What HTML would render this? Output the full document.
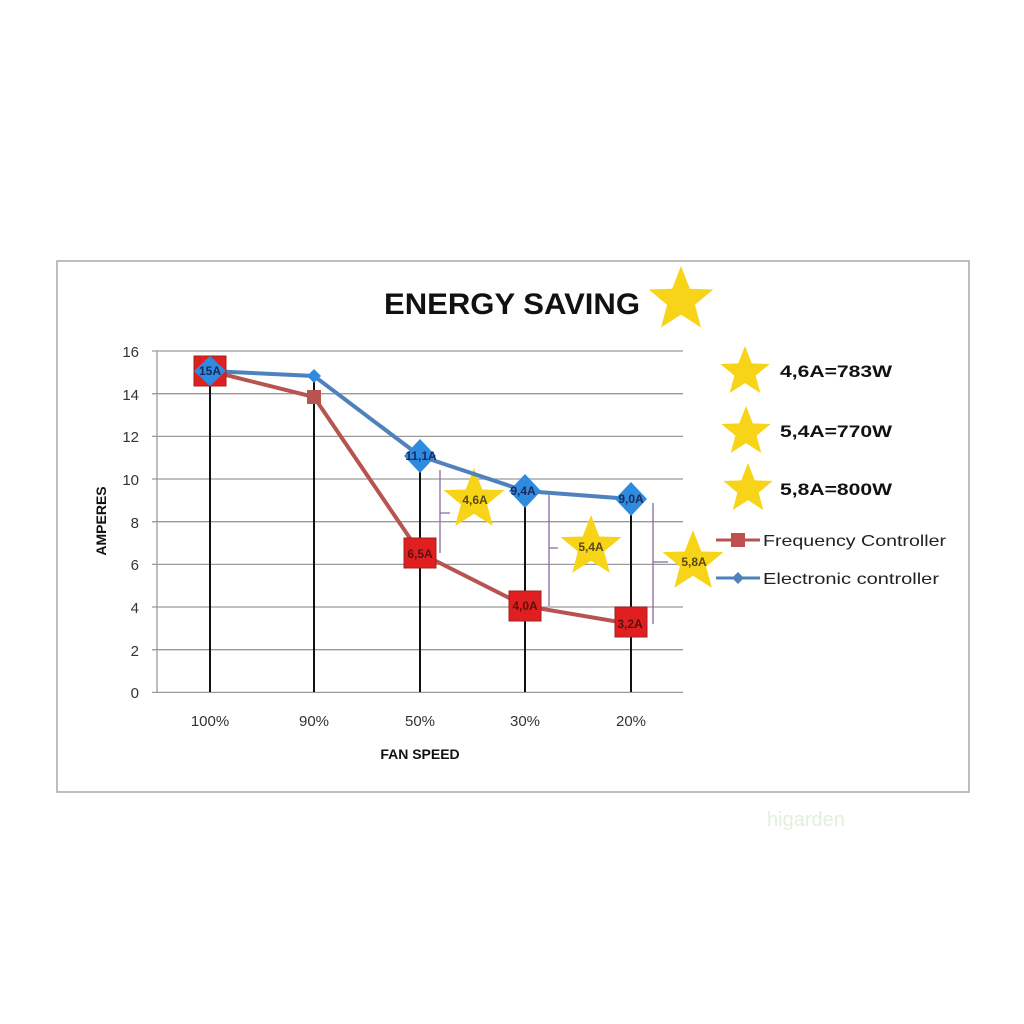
<!DOCTYPE html>
<html><head><meta charset="utf-8"><style>
html,body{margin:0;padding:0;background:#fff;}
svg{display:block;font-family:"Liberation Sans","DejaVu Sans",sans-serif;}
</style></head><body>
<svg width="1024" height="1024" viewBox="0 0 1024 1024">
<defs>
<polygon id="st" points="0,-1 0.26,-0.33 0.951,-0.309 0.41,0.14 0.588,0.809 0,0.43 -0.588,0.809 -0.41,0.14 -0.951,-0.309 -0.26,-0.33" fill="#f7d417"/>
</defs>
<rect x="57" y="261" width="912" height="531" fill="#fff" stroke="#a8a8a8" stroke-width="1.5"/>
<text x="512" y="314" font-size="30" font-weight="bold" text-anchor="middle" fill="#111" textLength="256" lengthAdjust="spacingAndGlyphs">ENERGY SAVING</text>
<use href="#st" transform="translate(681,300) scale(34)"/>
<g stroke="#9a9a9a" stroke-width="1.3">
<line x1="152" y1="351" x2="683" y2="351"/>
<line x1="152" y1="393.7" x2="683" y2="393.7"/>
<line x1="152" y1="436.4" x2="683" y2="436.4"/>
<line x1="152" y1="479" x2="683" y2="479"/>
<line x1="152" y1="521.7" x2="683" y2="521.7"/>
<line x1="152" y1="564.4" x2="683" y2="564.4"/>
<line x1="152" y1="607" x2="683" y2="607"/>
<line x1="152" y1="649.7" x2="683" y2="649.7"/>
<line x1="152" y1="692.4" x2="683" y2="692.4"/>
<line x1="157" y1="351" x2="157" y2="692"/>
</g>
<g font-size="15" fill="#333" text-anchor="end">
<text x="139" y="357">16</text><text x="139" y="400">14</text><text x="139" y="442">12</text>
<text x="139" y="485">10</text><text x="139" y="528">8</text><text x="139" y="570">6</text>
<text x="139" y="613">4</text><text x="139" y="656">2</text><text x="139" y="698">0</text>
</g>
<text transform="translate(106,521) rotate(-90)" font-size="14" font-weight="bold" text-anchor="middle" fill="#111">AMPERES</text>
<g font-size="15" fill="#333" text-anchor="middle">
<text x="210" y="726">100%</text><text x="314" y="726">90%</text><text x="420" y="726">50%</text>
<text x="525" y="726">30%</text><text x="631" y="726">20%</text>
</g>
<text x="420" y="759" font-size="14" font-weight="bold" text-anchor="middle" fill="#111">FAN SPEED</text>
<g stroke="#111" stroke-width="2">
<line x1="210" y1="371" x2="210" y2="692"/>
<line x1="314" y1="378" x2="314" y2="692"/>
<line x1="420" y1="455" x2="420" y2="692"/>
<line x1="525" y1="491" x2="525" y2="692"/>
<line x1="631" y1="499" x2="631" y2="692"/>
</g>
<g stroke="#8a6aa0" stroke-width="1.3" fill="none">
<path d="M440,470 L440,553 M440,513 L450,513"/>
<path d="M549,495 L549,606 M549,548 L558,548"/>
<path d="M653,503 L653,624 M653,562 L668,562"/>
</g>
<use href="#st" transform="translate(474,500) scale(32)"/>
<use href="#st" transform="translate(591,547) scale(32)"/>
<use href="#st" transform="translate(693,562) scale(32)"/>
<polyline points="210,371 314,397 420,553 525,606 631,624" fill="none" stroke="#b85450" stroke-width="4"/>
<polyline points="210,371 314,376 420,456 525,491 631,499" fill="none" stroke="#4f81bd" stroke-width="4"/>
<rect x="194" y="356" width="32" height="30" fill="#e02020" stroke="#a02020"/>
<rect x="307" y="390" width="14" height="14" fill="#b85450"/>
<rect x="404" y="538" width="32" height="30" fill="#e02020" stroke="#a02020"/>
<rect x="509" y="591" width="32" height="30" fill="#e02020" stroke="#a02020"/>
<rect x="615" y="607" width="32" height="30" fill="#e02020" stroke="#a02020"/>
<g fill="#2e8be0">
<polygon points="210,356 226,371 210,386 194,371"/>
<polygon points="314,369 321,376 314,383 307,376"/>
<polygon points="420,439 436,456 420,473 404,456"/>
<polygon points="525,474 541,491 525,508 509,491"/>
<polygon points="631,482 647,499 631,516 615,499"/>
</g>
<g font-size="12" font-weight="bold" text-anchor="middle" fill="#1a2a5a">
<text x="210" y="375">15A</text>
<text x="421" y="460">11,1A</text>
<text x="523" y="495">9,4A</text>
<text x="631" y="503">9,0A</text>
</g>
<g font-size="12" font-weight="bold" text-anchor="middle" fill="#5a1010">
<text x="420" y="558">6,5A</text>
<text x="525" y="610">4,0A</text>
<text x="630" y="628">3,2A</text>
</g>
<g font-size="12" font-weight="bold" text-anchor="middle" fill="#5a4a10">
<text x="475" y="504">4,6A</text>
<text x="591" y="551">5,4A</text>
<text x="694" y="566">5,8A</text>
</g>
<use href="#st" transform="translate(745,372) scale(26)"/>
<use href="#st" transform="translate(746,432) scale(26)"/>
<use href="#st" transform="translate(748,489) scale(26)"/>
<g font-size="17" font-weight="bold" fill="#111">
<text x="780" y="377" textLength="112" lengthAdjust="spacingAndGlyphs">4,6A=783W</text>
<text x="780" y="437" textLength="112" lengthAdjust="spacingAndGlyphs">5,4A=770W</text>
<text x="780" y="495" textLength="112" lengthAdjust="spacingAndGlyphs">5,8A=800W</text>
</g>
<line x1="716" y1="540" x2="760" y2="540" stroke="#b85450" stroke-width="3"/>
<rect x="731" y="533" width="14" height="14" fill="#c0504d"/>
<line x1="716" y1="578" x2="760" y2="578" stroke="#4f81bd" stroke-width="3"/>
<polygon points="738,572 744,578 738,584 732,578" fill="#4f81bd"/>
<g font-size="16" fill="#222">
<text x="763" y="546" textLength="183" lengthAdjust="spacingAndGlyphs">Frequency Controller</text>
<text x="763" y="584" textLength="176" lengthAdjust="spacingAndGlyphs">Electronic controller</text>
</g>
<text x="767" y="826" font-size="20" fill="#e2efdc">higarden</text>
</svg>
</body></html>
